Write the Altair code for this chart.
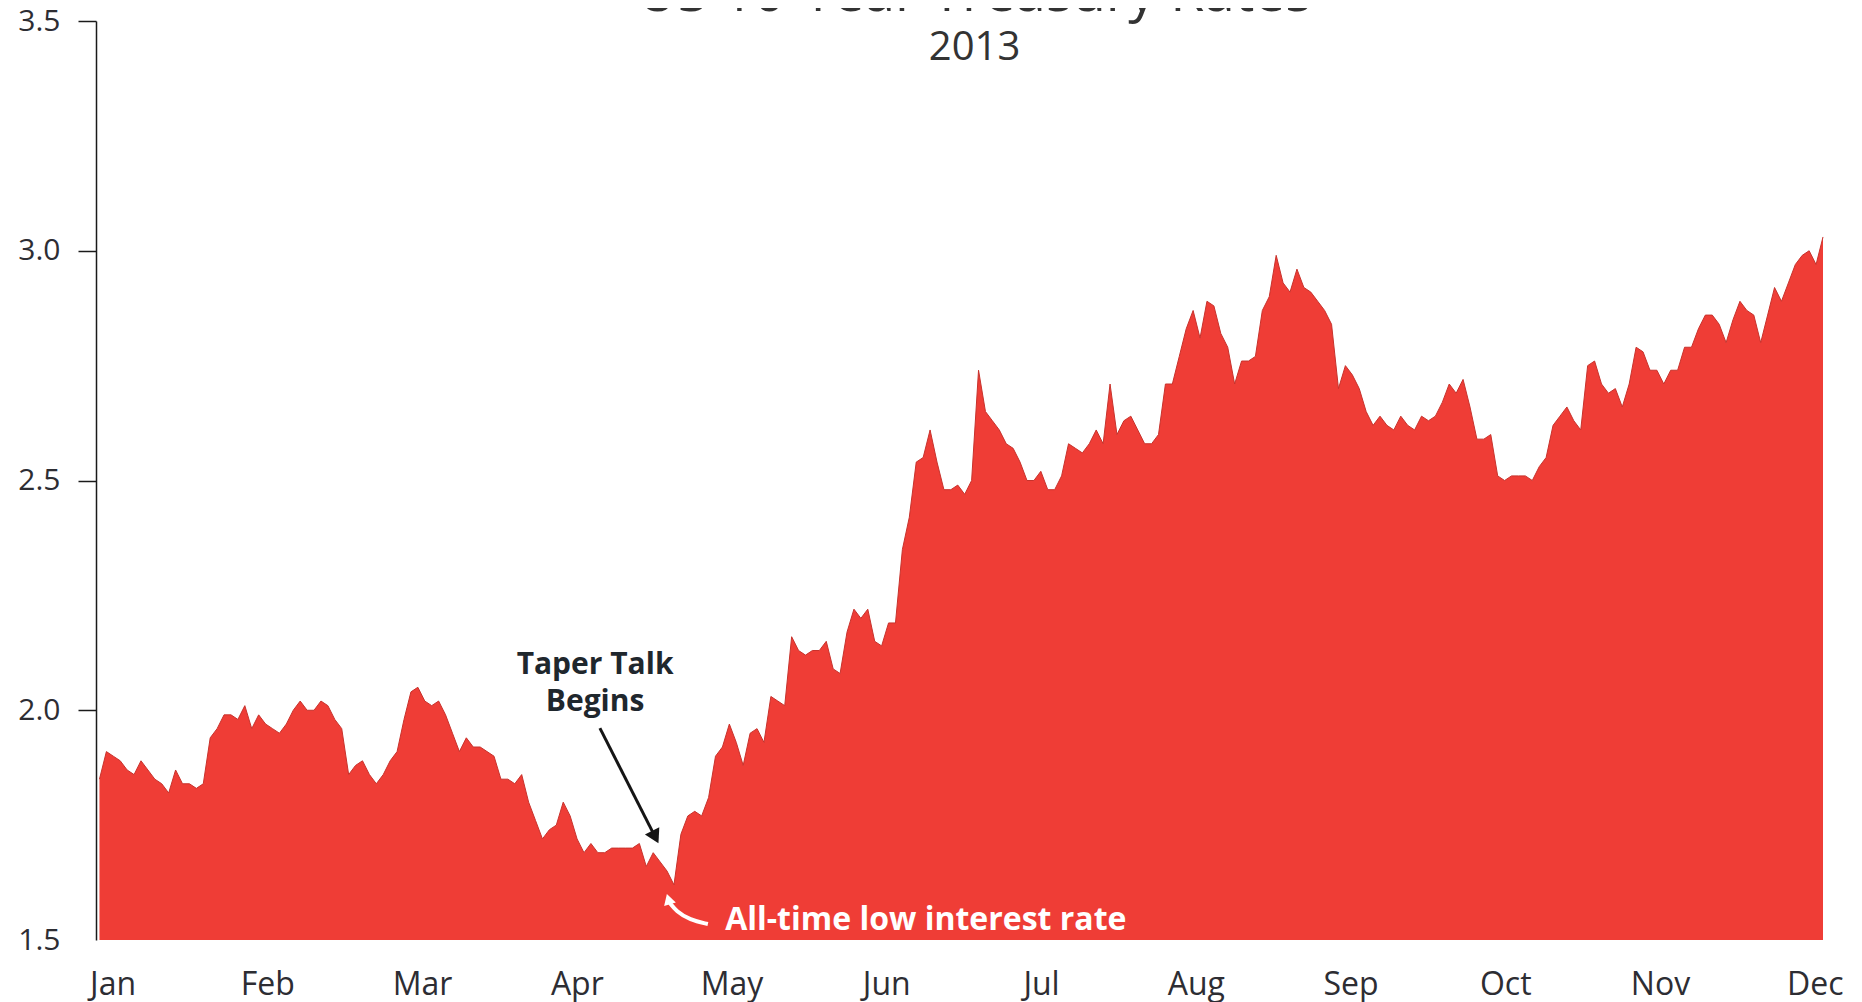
import altair as alt
import pandas as pd
import numpy as np

# ---------------- data ----------------
months = ["Jan", "Feb", "Mar", "Apr", "May", "Jun",
          "Jul", "Aug", "Sep", "Oct", "Nov", "Dec"]

# daily 10-year yields (%) by trading day, one list per month
jan = [1.85, 1.91, 1.90, 1.89, 1.87, 1.86, 1.89, 1.87, 1.85, 1.84, 1.82, 1.87, 1.84,
       1.84, 1.83, 1.84, 1.94, 1.96, 1.99, 1.99, 1.98]
feb = [2.01, 1.96, 1.99, 1.97, 1.96, 1.95, 1.97, 2.00, 2.02, 2.00, 2.00, 2.02, 2.01,
       1.98, 1.96, 1.86, 1.88, 1.89, 1.86]
mar = [1.84, 1.86, 1.89, 1.91, 1.98, 2.04, 2.05, 2.02, 2.01, 2.02, 1.99, 1.95, 1.91,
       1.94, 1.92, 1.92, 1.91, 1.90, 1.85, 1.85]
apr = [1.84, 1.86, 1.80, 1.76, 1.72, 1.74, 1.75, 1.80, 1.77, 1.72, 1.69, 1.71, 1.69,
       1.69, 1.70, 1.70, 1.70, 1.70, 1.71, 1.66, 1.69, 1.67]
may = [1.65, 1.62, 1.73, 1.77, 1.78, 1.77, 1.81, 1.90, 1.92, 1.97, 1.93, 1.88, 1.95,
       1.96, 1.93, 2.03, 2.02, 2.01, 2.16, 2.13, 2.12, 2.13]
jun = [2.13, 2.15, 2.09, 2.08, 2.17, 2.22, 2.20, 2.22, 2.15, 2.14, 2.19, 2.19, 2.35,
       2.42, 2.54, 2.55, 2.61, 2.54, 2.48, 2.48]
jul = [2.49, 2.47, 2.50, 2.74, 2.65, 2.63, 2.61, 2.58, 2.57, 2.54, 2.50, 2.50, 2.52,
       2.48, 2.48, 2.51, 2.58, 2.57, 2.56, 2.58, 2.61, 2.58]
aug = [2.71, 2.60, 2.63, 2.64, 2.61, 2.58, 2.58, 2.60, 2.71, 2.71, 2.77, 2.83, 2.87,
       2.81, 2.89, 2.88, 2.82, 2.79, 2.71, 2.76, 2.76, 2.77]
sep = [2.87, 2.90, 2.99, 2.93, 2.91, 2.96, 2.92, 2.91, 2.89, 2.87, 2.84, 2.70, 2.75,
       2.73, 2.70, 2.65, 2.62, 2.64, 2.62, 2.61]
octo = [2.64, 2.62, 2.61, 2.64, 2.63, 2.64, 2.67, 2.71, 2.69, 2.72, 2.66, 2.59, 2.59,
        2.60, 2.51, 2.50, 2.51, 2.51, 2.51, 2.50, 2.53, 2.55]
nov = [2.62, 2.64, 2.66, 2.63, 2.61, 2.75, 2.76, 2.71, 2.69, 2.70, 2.66, 2.71, 2.79,
       2.78, 2.74, 2.74, 2.71, 2.74, 2.74]
dec = [2.79, 2.79, 2.83, 2.86, 2.86, 2.84, 2.80, 2.85, 2.89, 2.87, 2.86, 2.80, 2.86,
       2.92, 2.89, 2.93, 2.97, 2.99, 3.00, 2.97, 3.03]

y_ticks = [1.5, 2.0, 2.5, 3.0, 3.5]

# annotations (in data coordinates: trading day, rate)
taper_text = ["Taper Talk", "Begins"]
taper_day = [71.6, 71.6]
taper_rate = [2.098, 2.018]

taper_arrow_day = [72.3, 80.3]
taper_arrow_rate = [1.961, 1.724]

low_text = ["All-time low interest rate"]
low_text_day = [90.4]
low_text_rate = [1.5435]

low_arrow_day = [87.9, 85.3, 83.3, 82.4]
low_arrow_rate = [1.5348, 1.5435, 1.5631, 1.5805]
low_head_day = [82.2]
low_head_rate = [1.589]

# ---------------- build ----------------
rates = jan + feb + mar + apr + may + jun + jul + aug + sep + octo + nov + dec
df = pd.DataFrame({"day": np.arange(len(rates)), "rate": rates})

first_lab, last_lab = 1.9, 247.8
step = (last_lab - first_lab) / (len(months) - 1)
tick_vals = [round(first_lab + k * step, 3) for k in range(len(months))]
label_expr = ("[" + ",".join(f"'{m}'" for m in months) + "]"
              + f"[round((datum.value - {first_lab}) / {step:.5f})]")

FONT = "Open Sans"
TXT = "#2d2d33"

x_scale = alt.Scale(domain=[-0.5, 249], nice=False, zero=False)
y_scale = alt.Scale(domain=[1.5, 3.5], nice=False, zero=False)

x_axis = alt.Axis(values=tick_vals, labelExpr=label_expr, domain=False, ticks=False,
                  tickSize=0, grid=False, labelFont=FONT, labelFontSize=32,
                  labelColor=TXT, labelBaseline="middle", labelPadding=44,
                  labelFlush=False, labelOverlap=False, labelBound=False, title=None)
y_axis = alt.Axis(values=y_ticks, format=".1f", grid=False, domainColor="#1a1a1a",
                  domainWidth=1.5, tickColor="#1a1a1a", tickWidth=1.5, tickSize=18,
                  tickOpacity={"condition": {"test": "datum.value === 1.5", "value": 0},
                               "value": 1},
                  labelFont=FONT, labelFontSize=30, labelColor=TXT, labelPadding=18,
                  title=None)


def X():
    return alt.X("day:Q", scale=x_scale, axis=x_axis)


def Y():
    return alt.Y("rate:Q", scale=y_scale, axis=y_axis)


area = alt.Chart(df).mark_area(
    color="#ef3d36", opacity=1,
    line=alt.OverlayMarkDef(color="#c8322c", strokeWidth=1),
).encode(x=X(), y=Y(), y2=alt.datum(1.5))

taper = alt.Chart(pd.DataFrame({"day": taper_day, "rate": taper_rate,
                                "label": taper_text})).mark_text(
    font=FONT, fontWeight="bold", fontSize=30, color="#1f272d",
    align="center", baseline="middle"
).encode(x=X(), y=Y(), text="label:N")

arrow_df = pd.DataFrame({"day": taper_arrow_day, "rate": taper_arrow_rate})
arrow_line = alt.Chart(arrow_df).mark_line(color="#151515", strokeWidth=3).encode(x=X(), y=Y())
arrow_head = alt.Chart(arrow_df.tail(1)).mark_point(
    shape="triangle-up", filled=True, size=260, angle=153, color="#151515", opacity=1
).encode(x=X(), y=Y())

low_line = alt.Chart(pd.DataFrame({"day": low_arrow_day, "rate": low_arrow_rate})).mark_line(
    color="white", strokeWidth=4, interpolate="basis"
).encode(x=X(), y=Y())
low_head = alt.Chart(pd.DataFrame({"day": low_head_day, "rate": low_head_rate})).mark_point(
    shape="triangle-up", filled=True, size=150, angle=343, color="white", opacity=1
).encode(x=X(), y=Y())
low_lab = alt.Chart(pd.DataFrame({"day": low_text_day, "rate": low_text_rate,
                                  "label": low_text})).mark_text(
    font=FONT, fontWeight="bold", fontSize=32, color="white",
    align="left", baseline="middle"
).encode(x=X(), y=Y(), text="label:N")

chart = alt.layer(area, taper, arrow_line, arrow_head, low_line, low_head, low_lab).properties(
    width=1727,
    height=919,
    title=alt.TitleParams(
        text="US 10-Year Treasury Rates", subtitle="2013",
        font=FONT, fontSize=55, fontWeight="normal", color="#333333",
        subtitleFont=FONT, subtitleFontSize=40, subtitleColor="#333333",
        subtitlePadding=4.5, anchor="middle", frame="group", dx=15, offset=-62.5,
    ),
    autosize=alt.AutoSizeParams(type="none"),
    padding={"left": 88, "top": 13, "right": 31, "bottom": 62},
    background="white",
).configure_view(strokeWidth=0)

chart.save("out.html", embed_options={"renderer": "svg", "actions": False})
